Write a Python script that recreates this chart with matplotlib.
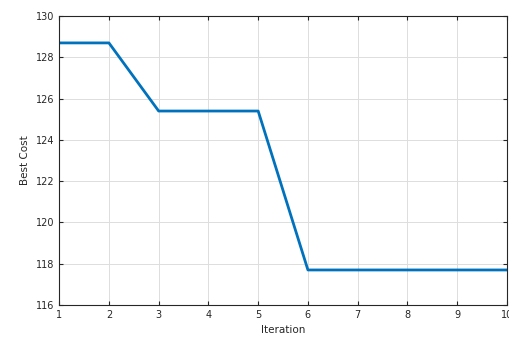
import matplotlib
matplotlib.use("Agg")
import matplotlib.pyplot as plt

iterations = [1, 2, 3, 4, 5, 6, 7, 8, 9, 10]
best_cost = [128.7, 128.7, 125.4, 125.4, 125.4, 117.7, 117.7, 117.7, 117.7, 117.7]

fig = plt.figure(figsize=(5.1, 3.42), dpi=100)
ax = fig.add_axes([0.116, 0.108, 0.878, 0.845])

ax.plot(iterations, best_cost, color="#0072BD", linewidth=2)

ax.set_xlim(1, 10)
ax.set_ylim(116, 130)
ax.set_xticks(range(1, 11))
ax.set_yticks(range(116, 131, 2))
ax.grid(True, color="#dddddd", linewidth=0.7)
ax.tick_params(direction="in", labelsize=7, colors="#262626", length=3, top=True, right=True)
for s in ax.spines.values():
    s.set_color("#262626")
    s.set_linewidth(0.8)

ax.set_xlabel("Iteration", fontsize=7.5, color="#262626")
ax.set_ylabel("Best Cost", fontsize=7.5, color="#262626")

fig.savefig("out.png", dpi=100)
